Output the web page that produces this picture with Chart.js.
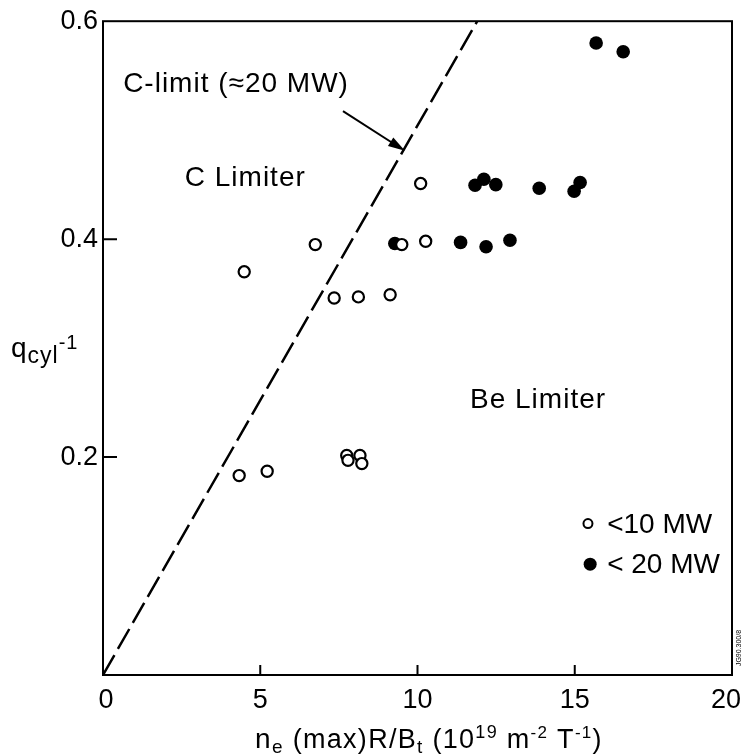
<!DOCTYPE html>
<html><head><meta charset="utf-8">
<script src="https://cdn.jsdelivr.net/npm/chart.js@4.4.0/dist/chart.umd.min.js"></script>
<style>html,body{margin:0;padding:0;background:#fff;}#wrap{width:743px;height:756px;}</style>
</head><body><div id="wrap"><canvas id="c" width="743" height="756"></canvas></div>
<script>
// ---- data ----
const lowPowerX  = [4.49, 6.75, 10.10, 9.50, 10.26, 7.35, 8.12, 9.13, 4.33, 5.22, 7.75, 8.17, 7.79, 8.23];
const lowPowerY  = [0.370, 0.395, 0.451, 0.395, 0.398, 0.346, 0.347, 0.349, 0.183, 0.187, 0.2015, 0.2015, 0.197, 0.194];
const highPowerX = [15.68, 16.54, 11.83, 12.11, 12.49, 13.87, 14.98, 15.17, 11.37, 12.18, 12.94, 9.28];
const highPowerY = [0.580, 0.572, 0.4495, 0.455, 0.450, 0.4467, 0.444, 0.452, 0.397, 0.393, 0.399, 0.396];
const cLimitX = [0, 11.9];
const cLimitY = [0, 0.6];
const xTicks = [0, 5, 10, 15, 20];
const yTicks = [0.2, 0.4, 0.6];
const seriesLabels = ['<10 MW', '< 20 MW'];
const regionLabels = ['C-limit (\u224820 MW)', 'C Limiter', 'Be Limiter'];

const FAM = "'Liberation Sans', Arial, Helvetica, sans-serif";
const pts = (xs, ys) => xs.map((x, i) => ({x: x, y: ys[i]}));

function drawRuns(ctx, runs, x, y, align, spacing) {
  ctx.letterSpacing = (spacing || 0) + 'px';
  let total = 0;
  runs.forEach(r => { ctx.font = r[1] + 'px ' + FAM; total += ctx.measureText(r[0]).width; });
  let cx = align === 'center' ? x - total / 2 : x;
  ctx.textAlign = 'left';
  ctx.textBaseline = 'alphabetic';
  runs.forEach(r => {
    ctx.font = r[1] + 'px ' + FAM;
    ctx.fillText(r[0], cx, y + r[2]);
    cx += ctx.measureText(r[0]).width;
  });
  ctx.letterSpacing = '0px';
}

const decor = {
  id: 'decor',
  afterDraw(chart) {
    const ctx = chart.ctx, a = chart.chartArea;
    const xs = chart.scales.x, ys = chart.scales.y;
    ctx.save();
    ctx.fillStyle = '#000'; ctx.strokeStyle = '#000';
    // frame
    ctx.lineWidth = 2;
    ctx.strokeRect(a.left, a.top, a.right - a.left, a.bottom - a.top);
    // inward ticks
    ctx.beginPath();
    xTicks.slice(1, -1).forEach(v => { const p = xs.getPixelForValue(v); ctx.moveTo(p, a.bottom); ctx.lineTo(p, a.bottom - 10); });
    yTicks.slice(0, -1).forEach(v => { const p = ys.getPixelForValue(v); ctx.moveTo(a.left, p); ctx.lineTo(a.left + 14, p); });
    ctx.stroke();
    // x tick labels
    ctx.font = '27px ' + FAM; ctx.textAlign = 'center'; ctx.textBaseline = 'top';
    xTicks.forEach(v => {
      const w = ctx.measureText(String(v)).width;
      let p = xs.getPixelForValue(v);
      if (v === 0) p += 3;
      p = Math.min(p, 741 - w / 2);
      ctx.fillText(String(v), p, a.bottom + 12);
    });
    // region labels
    ctx.letterSpacing = '1px';
    ctx.font = '28px ' + FAM; ctx.textAlign = 'left'; ctx.textBaseline = 'middle';
    ctx.fillText(regionLabels[0], xs.getPixelForValue(0.64), ys.getPixelForValue(0.542));
    ctx.fillText(regionLabels[1], xs.getPixelForValue(2.6), ys.getPixelForValue(0.456));
    ctx.fillText(regionLabels[2], xs.getPixelForValue(11.67), ys.getPixelForValue(0.252));
    ctx.letterSpacing = '0px';
    // arrow
    const x0 = xs.getPixelForValue(7.63), y0 = ys.getPixelForValue(0.5175);
    const x1 = xs.getPixelForValue(9.60), y1 = ys.getPixelForValue(0.481);
    const ang = Math.atan2(y1 - y0, x1 - x0);
    ctx.lineWidth = 2;
    ctx.beginPath(); ctx.moveTo(x0, y0); ctx.lineTo(x1 - 10 * Math.cos(ang), y1 - 10 * Math.sin(ang)); ctx.stroke();
    ctx.beginPath();
    ctx.moveTo(x1, y1);
    ctx.lineTo(x1 - 17 * Math.cos(ang) + 5 * Math.sin(ang), y1 - 17 * Math.sin(ang) - 5 * Math.cos(ang));
    ctx.lineTo(x1 - 17 * Math.cos(ang) - 5 * Math.sin(ang), y1 - 17 * Math.sin(ang) + 5 * Math.cos(ang));
    ctx.closePath(); ctx.fill();
    // legend
    const lx0 = xs.getPixelForValue(15.42), ly0 = ys.getPixelForValue(0.139);
    const lx1 = xs.getPixelForValue(15.49), ly1 = ys.getPixelForValue(0.1017);
    ctx.lineWidth = 2;
    ctx.beginPath(); ctx.arc(lx0, ly0, 4.5, 0, Math.PI * 2); ctx.stroke();
    ctx.beginPath(); ctx.arc(lx1, ly1, 6.5, 0, Math.PI * 2); ctx.fill();
    ctx.font = '28px ' + FAM; ctx.textBaseline = 'middle';
    ctx.fillText(seriesLabels[0], xs.getPixelForValue(16.03), ly0 + 2);
    ctx.fillText(seriesLabels[1], xs.getPixelForValue(16.03), ly1 + 1);
    // axis titles
    drawRuns(ctx, [['q', 28, 0], ['cyl', 23, 6], ['-1', 20, -8]], 11, 357, 'left', 1);
    drawRuns(ctx, [['n', 28, 0], ['e', 19, 5], [' (max)R/B', 27, 0], ['t', 19, 5], [' (10', 27, 0], ['19', 18, -10],
                   [' m', 27, 0], ['-2', 17, -10], [' T', 27, 0], ['-1', 17, -10], [')', 27, 0]], 429, 748, 'center', 1.3);
    // figure id
    ctx.save();
    ctx.translate(739, 648); ctx.rotate(-Math.PI / 2);
    ctx.font = '7px ' + FAM; ctx.textAlign = 'center'; ctx.textBaseline = 'middle';
    ctx.fillText('JG90.300/8', 0, 0);
    ctx.restore();
    ctx.restore();
  }
};

new Chart(document.getElementById('c'), {
  type: 'scatter',
  data: {
    datasets: [
      { label: seriesLabels[0], data: pts(lowPowerX, lowPowerY), pointStyle: 'circle', pointRadius: 5.6,
        borderColor: '#000', backgroundColor: '#fff', borderWidth: 2.2, order: 0 },
      { label: seriesLabels[1], data: pts(highPowerX, highPowerY), pointStyle: 'circle', pointRadius: 6.8,
        borderColor: '#000', backgroundColor: '#000', borderWidth: 0, order: 1 },
      { type: 'line', label: regionLabels[0], data: pts(cLimitX, cLimitY), borderColor: '#000', borderWidth: 2.5,
        borderDash: [23, 7], pointRadius: 0, fill: false, showLine: true, order: 2 }
    ]
  },
  options: {
    responsive: false, animation: false, devicePixelRatio: 1,
    layout: { padding: { top: 20, right: 11, left: 0, bottom: 0 } },
    plugins: { legend: { display: false }, tooltip: { enabled: false } },
    scales: {
      x: {
        type: 'linear', min: 0, max: 20,
        afterBuildTicks: s => { s.ticks = xTicks.map(v => ({ value: v })); },
        afterFit: s => { s.height = 81; },
        grid: { display: false, drawTicks: false }, border: { display: false },
        ticks: { display: false }
      },
      y: {
        type: 'linear', min: 0, max: 0.6,
        afterBuildTicks: s => { s.ticks = yTicks.map(v => ({ value: v })); },
        afterFit: s => { s.width = 103; },
        grid: { display: false, drawTicks: false }, border: { display: false },
        ticks: { color: '#000', font: { family: FAM, size: 27 }, padding: 5, callback: v => v.toFixed(1) }
      }
    }
  },
  plugins: [decor]
});
</script></body></html>
